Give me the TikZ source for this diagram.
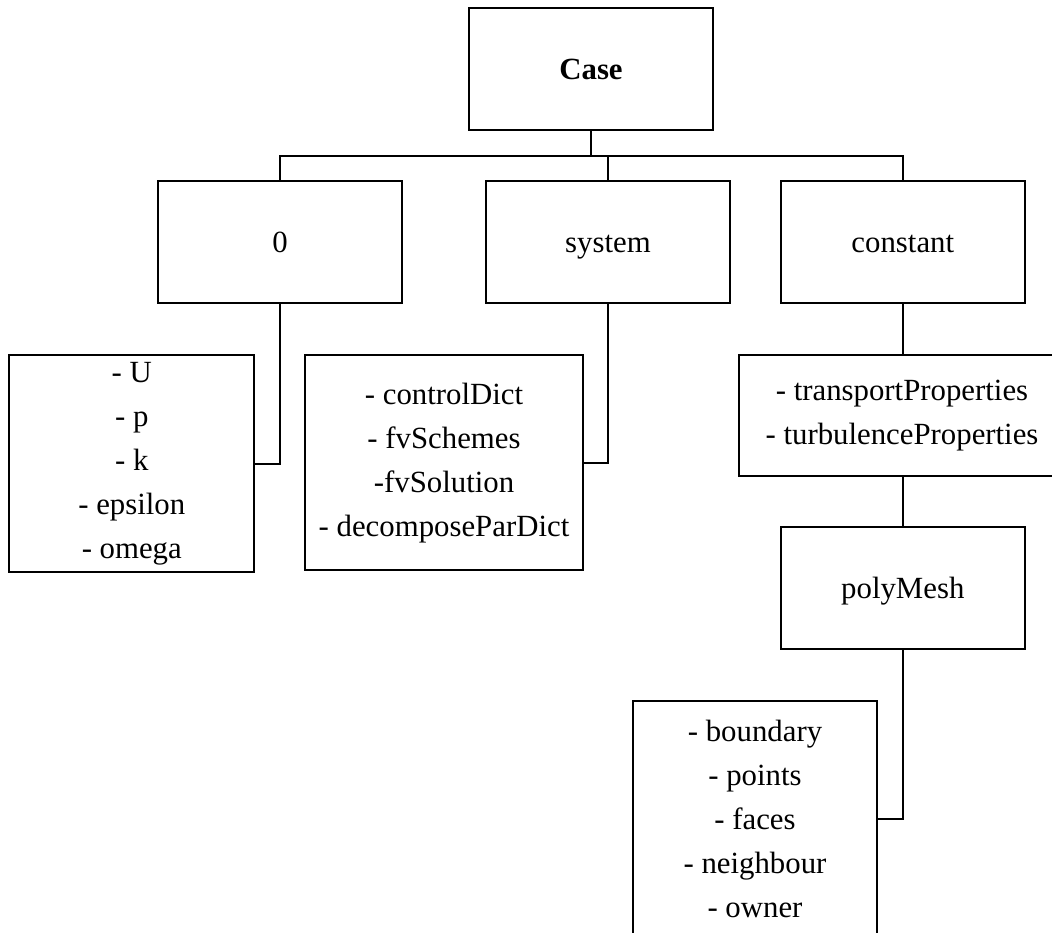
\documentclass[tikz,border=0pt]{standalone}
\usepackage{fontspec}
\setmainfont{Liberation Serif}
\usepackage{tikz}
\usetikzlibrary{calc}

\begin{document}
\begin{tikzpicture}[
		x=1pt,y=1pt,
		line width=0.9pt,
		box/.style={draw,minimum width=122pt,minimum height=61pt,inner sep=0pt,
			text height=10.4pt,text depth=0pt,
			font=\fontsize{15.4}{22}\selectfont},
		files/.style={draw,align=center,inner sep=0pt,
			font=\fontsize{15.4}{22}\selectfont}]
		\path[use as bounding box,clip] (0,0) rectangle (526,-466);
		\node[box] (case) at (295.5,-34.5) {\textbf{Case}};
		\node[box] (zero) at (140,-121) {0};
		\node[box] (sys) at (304,-121) {system};
		\node[box] (const) at (451.4,-121) {constant};
		\node[files,minimum width=122.5pt,minimum height=108.5pt] (zerofiles) at (65.9,-231.8)
			{- U\\- p\\- k\\- epsilon\\- omega};
		\node[files,minimum width=139pt,minimum height=107.5pt] (sysfiles) at (222,-231.3)
			{- controlDict\\- fvSchemes\\-fvSolution\\- decomposeParDict};
		\node[files,minimum width=163pt,minimum height=60.5pt] (constfiles) at (451,-207.8)
			{- transportProperties\\- turbulenceProperties};
		\node[box] (mesh) at (451.4,-294) {polyMesh};
		\node[files,minimum width=122pt,minimum height=117.5pt] (meshfiles) at (377.5,-409.3)
			{- boundary\\- points\\- faces\\- neighbour\\- owner};
		\coordinate (bus) at (295.5,-78);
		\draw (case.south) -- (bus) -| (zero.north);
		\draw (bus) -| (sys.north);
		\draw (bus) -| (const.north);
		\draw (zero.south) |- (zerofiles.east);
		\draw (sys.south) |- (sysfiles.east);
		\draw (const.south) -- (const.south |- constfiles.north);
		\draw (constfiles.south -| mesh.north) -- (mesh.north);
		\draw (mesh.south) |- (meshfiles.east);
\end{tikzpicture}
\end{document}
